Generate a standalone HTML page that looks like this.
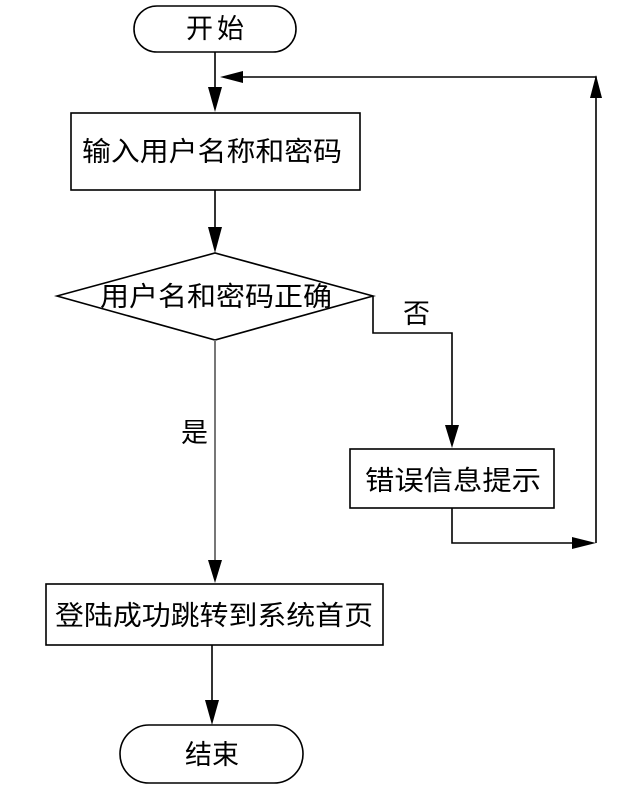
<!DOCTYPE html>
<html><head><meta charset="utf-8"><style>
html,body{margin:0;padding:0;background:#fff;}
svg{display:block;}
text{font-family:"Liberation Sans","Noto Sans CJK SC",sans-serif;font-size:27px;fill:#000;}
</style></head><body>
<svg width="629" height="800" viewBox="0 0 629 800" xmlns="http://www.w3.org/2000/svg">
<g fill="none" stroke="#000" stroke-width="1.6">
<rect x="134" y="6" width="162" height="46" rx="23"/>
<rect x="71" y="113" width="289" height="77"/>
<polygon points="57,296 215,253 373,296 215,340"/>
<rect x="350" y="449" width="204" height="59"/>
<rect x="46" y="584" width="337" height="61"/>
<rect x="120" y="725" width="183" height="58" rx="29"/>
<line x1="215" y1="52" x2="215" y2="100"/>
<line x1="215" y1="190" x2="215" y2="240"/>
<polyline points="373,296 373,333 452,333 452,436"/>
<polyline points="452,508 452,543 584,543"/>
<polyline points="596,543 596,77 230,77"/>
<line x1="212" y1="645" x2="212" y2="712"/>
</g>
<line x1="215" y1="340" x2="215" y2="570" stroke="#777" stroke-width="2"/>
<g fill="#000">
<polygon points="215,112 208,87 222,87"/>
<polygon points="215,253 208,227 222,227"/>
<polygon points="220,77 243,71 243,83"/>
<polygon points="596,75 590,98 602,98"/>
<polygon points="452,448 445,425 459,425"/>
<polygon points="596,543 572,537 572,549"/>
<polygon points="215,583 208,560 222,560"/>
<polygon points="212,725 205,700 219,700"/>
</g>
<text x="215" y="38" text-anchor="middle" textLength="58">开始</text>
<text x="82" y="161" textLength="260" lengthAdjust="spacingAndGlyphs">输入用户名称和密码</text>
<text x="100" y="306" textLength="232" lengthAdjust="spacingAndGlyphs">用户名和密码正确</text>
<text x="403" y="323" font-size="24">否</text>
<text x="181" y="442" font-size="24">是</text>
<text x="365" y="490" textLength="176" lengthAdjust="spacingAndGlyphs">错误信息提示</text>
<text x="55" y="625" textLength="318" lengthAdjust="spacingAndGlyphs">登陆成功跳转到系统首页</text>
<text x="212" y="764" text-anchor="middle">结束</text>
</svg>
</body></html>
